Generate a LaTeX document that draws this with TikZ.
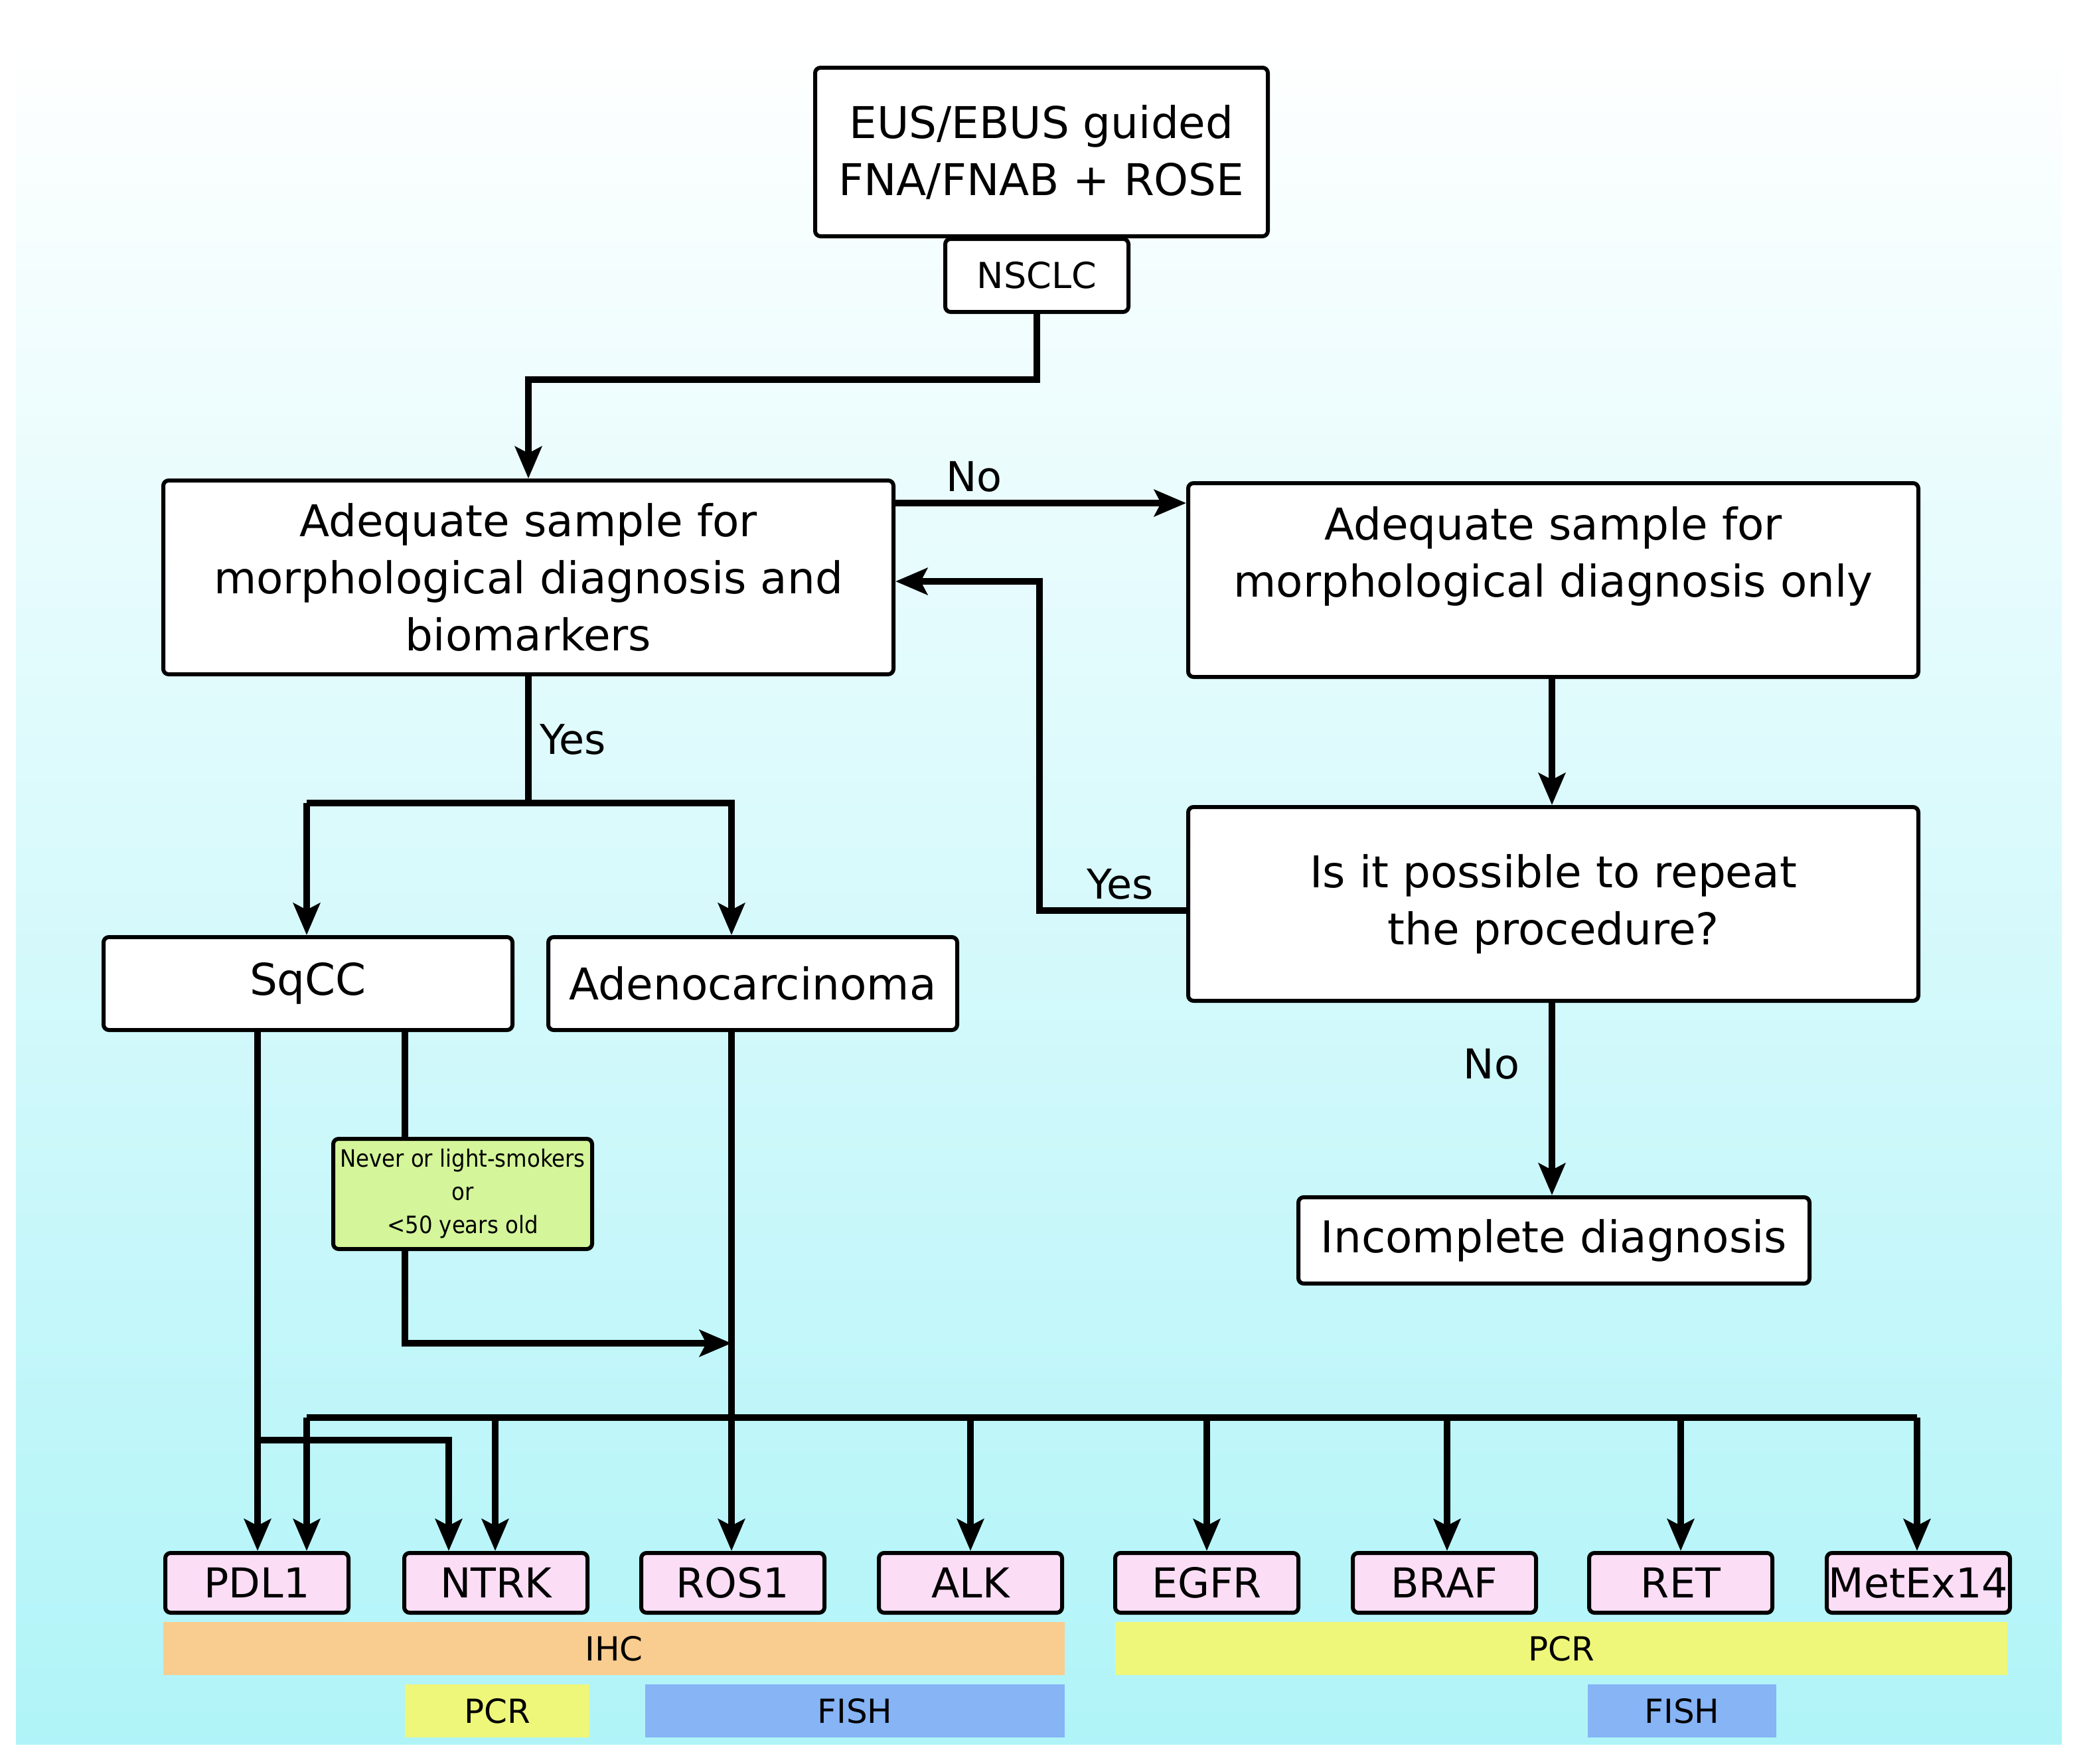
\documentclass[tikz,border=0pt]{standalone}
\usepackage{fontspec}
\setmainfont{DejaVu Sans}
\newfontfamily\condf{DejaVu Sans Condensed}
\usetikzlibrary{arrows.meta}
\definecolor{bgtop}{HTML}{FFFFFF}
\definecolor{bgbot}{HTML}{B0F4F8}
\definecolor{pinkc}{HTML}{FBDDF6}
\definecolor{orangec}{HTML}{F9CD8F}
\definecolor{yellowc}{HTML}{EEF77A}
\definecolor{bluec}{HTML}{86B4F5}
\definecolor{greenc}{HTML}{D4F59A}
\begin{document}
\begin{tikzpicture}[x=1pt,y=-1pt,
  box/.style={draw=black,line width=3pt,rounded corners=4pt,fill=white,inner sep=0pt,align=center,font=\fontsize{33}{43}\selectfont},
  tbox/.style={draw=black,line width=3pt,rounded corners=4pt,fill=pinkc,inner sep=0pt,minimum width=138pt,minimum height=45pt,font=\fontsize{31}{36}\selectfont},
  bar/.style={inner sep=0pt,font=\fontsize{25}{28}\selectfont},
  conn/.style={line width=5pt,-{Stealth[length=24pt,width=20pt,inset=5pt]}},
  line/.style={line width=5pt},
  lab/.style={font=\fontsize{31}{34}\selectfont,inner sep=0pt}]
\useasboundingbox (0,0) rectangle (1563,1328.5);
\fill[white] (0,0) rectangle (1563,1328.5);
\shade[top color=bgtop,bottom color=bgbot] (12,27) rectangle (1553,1314);
% nodes
\node[box,minimum width=341pt,minimum height=127pt] (eus) at (784.5,114.5) {EUS/EBUS guided\\FNA/FNAB + ROSE};
\node[box,minimum width=138pt,minimum height=55pt,font=\fontsize{27}{30}\selectfont] (nsclc) at (781,207.5) {NSCLC};
\node[box,minimum width=550pt,minimum height=146pt] (A) at (398,435) {Adequate sample for\\morphological diagnosis and\\biomarkers};
\node[box,minimum width=550pt,minimum height=146pt] (B) at (1170,437) {Adequate sample for\\morphological diagnosis only\\ \mbox{}};
\node[box,minimum width=550pt,minimum height=146pt] (C) at (1170,681) {Is it possible to repeat\\the procedure?};
\node[box,minimum width=385pt,minimum height=65pt] (D) at (1170.5,934.5) {Incomplete diagnosis};
\node[box,minimum width=308pt,minimum height=70pt] (sq) at (232,741) {SqCC};
\node[box,minimum width=308pt,minimum height=70pt] (ad) at (567,741) {Adenocarcinoma};
\node[box,fill=greenc,minimum width=195pt,minimum height=83pt,font=\condf\fontsize{18}{25}\selectfont] (gr) at (348.5,899.5) {Never or light-smokers\\or\\<50 years old};
\node[tbox] (pdl) at (193.5,1192.5) {PDL1};
\node[tbox] (ntrk) at (373.5,1192.5) {NTRK};
\node[tbox] (ros) at (552,1192.5) {ROS1};
\node[tbox] (alk) at (731,1192.5) {ALK};
\node[tbox] (egfr) at (909,1192.5) {EGFR};
\node[tbox] (braf) at (1088,1192.5) {BRAF};
\node[tbox] (ret) at (1266,1192.5) {RET};
\node[tbox] (met) at (1445,1192.5) {MetEx14};
% bars
\node[bar,fill=orangec,minimum width=679pt,minimum height=40pt] (ihc) at (462.5,1242) {IHC};
\node[bar,fill=yellowc,minimum width=672pt,minimum height=40pt] (pcr1) at (1176,1242) {PCR};
\node[bar,fill=yellowc,minimum width=139pt,minimum height=40pt] (pcr2) at (374.5,1289) {PCR};
\node[bar,fill=bluec,minimum width=316pt,minimum height=40pt] (fish1) at (644,1289) {FISH};
\node[bar,fill=bluec,minimum width=142pt,minimum height=40pt] (fish2) at (1267,1289) {FISH};
% coordinates
\coordinate (n2) at (398,286);
\coordinate (y1) at (398,605);
\coordinate (ys) at (231,605);
\coordinate (ya) at (551,605);
\coordinate (r1) at (783,686);
\coordinate (r2) at (783,438);
\coordinate (s1) at (194,1085);
\coordinate (s2) at (338,1085);
\coordinate (g1) at (305,1012);
\coordinate (g2) at (551,1012);
\coordinate (b0) at (231,1068);
\coordinate (b1) at (1444,1068);
% connectors
\draw[conn] (nsclc.south) |- (n2) -- (A.north-|n2);
\draw[conn] (A.east|-0,379) -- node[lab,above=6pt,pos=0.27]{No} (B.west|-0,379);
\draw[conn] (C.west|-r1) -- node[lab,above=6pt,pos=0.45]{Yes} (r1) -- (r2) -- (A.east|-r2);
\draw[conn] (B.south-|1169,0) -- (C.north-|1169,0);
\draw[conn] (C.south-|1169,0) -- node[lab,left=22pt,pos=0.32]{No} (D.north-|1169,0);
\draw[line] (A.south-|y1) -- node[lab,right=6pt,pos=0.5]{Yes} (y1);
\draw[conn] (ys) -- (ys|-sq.north);
\draw[conn] (ys) -| (ya) -- (ya|-ad.north);
\draw[conn] (sq.south-|194,0) -- (pdl.north-|194,0);
\draw[conn] (s1) -- (s2) -- (ntrk.north-|s2);
\draw[line] (sq.south-|305,0) -- (gr.north-|305,0);
\draw[conn] (gr.south-|305,0) -- (g1) -- (g2);
\draw[conn] (ad.south-|551,0) -- (ros.north-|551,0);
\draw[line] (b0) -- (b1);
\draw[conn] (b0) -- (pdl.north-|b0);
\foreach \n/\x in {ntrk/373,alk/731,egfr/909,braf/1090,ret/1266,met/1444}
  \draw[conn] (\x,1068) -- (\n.north-|\x,0);
\end{tikzpicture}
\end{document}
